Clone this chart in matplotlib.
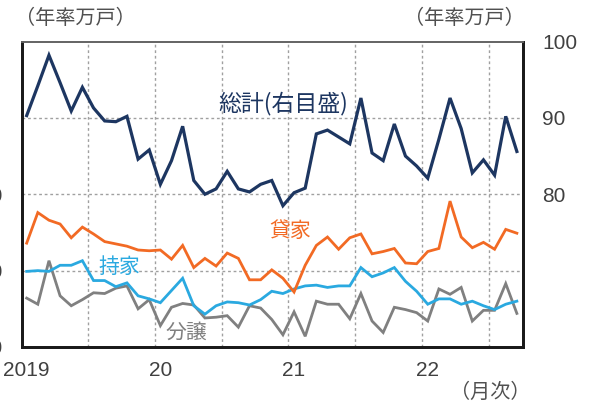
import numpy as np
import matplotlib
matplotlib.use("Agg")
import matplotlib.pyplot as plt

plt.rcParams['font.family'] = ['Noto Sans CJK JP', 'DejaVu Sans']

# monthly, Jan 2019 - Sep 2022 (annualized, 10k units)
total = [90.3, 94.2, 98.2, 94.6, 90.9, 94.0, 91.3, 89.6, 89.5, 90.2,
         84.6, 85.8, 81.3, 84.4, 88.9, 81.8, 80.0, 80.7, 83.0, 80.7,
         80.3, 81.3, 81.8, 78.5, 80.2, 80.8, 87.9, 88.4, 87.5, 86.6,
         92.6, 85.4, 84.4, 89.2, 85.0, 83.7, 82.1, 87.2, 92.6, 88.6,
         82.8, 84.5, 82.5, 90.2, 85.6]
rent = [33.6, 37.6, 36.6, 36.1, 34.3, 35.7, 34.8, 33.8, 33.5, 33.2,
        32.7, 32.6, 32.7, 31.5, 33.3, 30.4, 31.6, 30.6, 32.3, 31.6,
        28.8, 28.8, 30.1, 29.0, 27.2, 30.7, 33.3, 34.4, 32.8, 34.3,
        34.8, 32.2, 32.5, 32.9, 31.0, 30.9, 32.5, 32.9, 39.1, 34.4,
        33.0, 33.7, 32.8, 35.4, 34.9]
owner = [29.9, 30.0, 29.9, 30.7, 30.7, 31.3, 28.7, 28.7, 27.9, 28.4,
         26.7, 26.3, 25.8, 27.4, 29.0, 25.4, 24.3, 25.4, 25.9, 25.8,
         25.5, 26.2, 27.3, 27.0, 27.6, 28.0, 28.1, 27.8, 28.0, 28.0,
         30.4, 29.2, 29.7, 30.4, 28.6, 27.3, 25.6, 26.3, 26.3, 25.6,
         26.0, 25.4, 24.9, 25.6, 26.0]
condo = [26.4, 25.6, 31.3, 26.7, 25.4, 26.2, 27.1, 27.0, 27.7, 28.0,
         25.0, 26.2, 22.8, 25.2, 25.7, 25.5, 23.8, 23.9, 24.1, 22.6,
         25.4, 25.1, 23.6, 21.6, 24.6, 21.4, 26.0, 25.6, 25.6, 23.7,
         27.0, 23.4, 21.9, 25.2, 24.9, 24.5, 23.4, 27.6, 26.9, 27.8,
         23.4, 24.8, 24.8, 28.3, 24.4]
year_ticks = [0, 12, 24, 36]
year_labels = ['2019', '20', '21', '22']
left_ticks = [20, 30, 40]
right_ticks = [80, 90, 100]

navy = '#1d3661'
orange = '#f26a24'
blue = '#2aa9e0'
gray = '#808080'
txt = '#404040'

x = np.arange(len(total))

fig = plt.figure(figsize=(5.91, 4.03), dpi=100)
ax = fig.add_axes([22/591, 56/403, 501/591, 305.5/403])
ax2 = ax.twinx()

ax.set_xlim(-0.42, 44.55)
ax.set_ylim(20, 60)
ax2.set_ylim(60, 100)

for v in [30, 40, 50]:
    ax.axhline(v, color='#a0a0a0', lw=1, ls=(0, (2, 2)), zorder=0)
for v in np.arange(5.5, 44, 6):
    ax.axvline(v, color='#a0a0a0', lw=1, ls=(0, (2, 2)), zorder=0)

ax.plot(x, condo, color=gray, lw=2.0, solid_joinstyle='miter')
ax.plot(x, owner, color=blue, lw=2.0, solid_joinstyle='miter')
ax.plot(x, rent, color=orange, lw=2.0, solid_joinstyle='miter')
ax2.plot(x, total, color=navy, lw=2.3, solid_joinstyle='miter')

ax.set_xticks(year_ticks)
ax.set_xticklabels(year_labels, family='Liberation Sans', fontsize=15, color=txt)
ax.set_yticks(left_ticks)
ax.set_yticklabels([str(t) for t in left_ticks], family='Liberation Sans', fontsize=15, color=txt)
ax2.set_yticks(right_ticks)
ax2.set_yticklabels([str(t) for t in right_ticks], family='Liberation Sans', fontsize=15, color=txt)
ax.tick_params(axis='x', length=0, pad=10)
ax.tick_params(axis='y', length=0, pad=14)
ax2.tick_params(axis='y', length=0, pad=14)

for a in (ax, ax2):
    for s in ['left', 'right', 'bottom']:
        a.spines[s].set_linewidth(2)
        a.spines[s].set_color('#1a1a1a')
    a.spines['top'].set_linewidth(1.3)
    a.spines['top'].set_color('#666666')

fig.text(15/591, 1 - 18/403, '（年率万戸）', fontsize=14.5, color='#505050', va='center', ha='left')
fig.text(525/591, 1 - 18/403, '（年率万戸）', fontsize=14.5, color='#505050', va='center', ha='right')
fig.text(530/591, 1 - 392/403, '（月次）', fontsize=14.5, color='#505050', va='center', ha='right')

fig.text(218/591, 1 - 103/403, '総計(右目盛)', fontsize=16.5, color=navy, va='center', ha='left')
fig.text(269/591, 1 - 231/403, '貸家', fontsize=15, color=orange, va='center', ha='left')
fig.text(98/591, 1 - 267/403, '持家', fontsize=15, color=blue, va='center', ha='left')
fig.text(166/591, 1 - 333/403, '分譲', fontsize=15, color=gray, va='center', ha='left')

fig.savefig('out.png', dpi=100)
